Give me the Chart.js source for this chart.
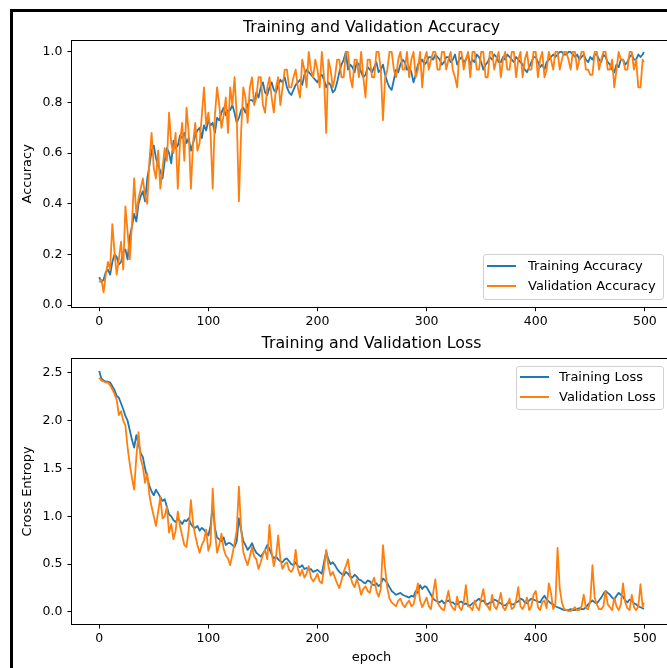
<!DOCTYPE html>
<html>
<head>
<meta charset="utf-8">
<script src="https://cdn.jsdelivr.net/npm/chart.js"></script>
<style>
  body { margin: 0; background: #fff; }
  #wrap { position: relative; width: 667px; height: 668px; overflow: hidden; background: #fff; font-family: "DejaVu Sans", sans-serif; }
  #wrap canvas { position: absolute; left: 0; }
  #frame { position: absolute; left: 10px; top: 9px; width: 700px; height: 700px; border-top: 3px solid #000; border-left: 3px solid #000; }
  .legend { position: absolute; box-sizing: border-box; border: 1px solid #d0d0d0; border-radius: 3px; background: rgba(255,255,255,0.8); font-size: 13px; color: #000; }
  .legend .swatch { position: absolute; width: 29px; height: 2px; }
  .legend .txt { position: absolute; line-height: 16px; white-space: nowrap; }
</style>
</head>
<body>
<div id="wrap">
  <canvas id="accChart" width="700" height="330" style="top:0"></canvas>
  <canvas id="lossChart" width="700" height="338" style="top:330px"></canvas>

  <div class="legend" style="left:483px; top:254px; width:181px; height:46px;">
    <div class="swatch" style="left:3px; top:10px; background:#1f77b4"></div>
    <div class="txt" style="left:44px; top:3px">Training Accuracy</div>
    <div class="swatch" style="left:3px; top:30px; background:#ff7f0e"></div>
    <div class="txt" style="left:44px; top:23px">Validation Accuracy</div>
  </div>

  <div class="legend" style="left:516px; top:366px; width:148px; height:44px;">
    <div class="swatch" style="left:3px; top:9px; background:#1f77b4"></div>
    <div class="txt" style="left:42px; top:2px">Training Loss</div>
    <div class="swatch" style="left:3px; top:29px; background:#ff7f0e"></div>
    <div class="txt" style="left:42px; top:22px">Validation Loss</div>
  </div>

  <div id="frame"></div>
</div>

<script>
// epochs, every 2nd epoch
const epochs = [
  0, 2, 4, 6, 8, 10, 12, 14, 16, 18,
  20, 22, 24, 26, 28, 30, 32, 34, 36, 38,
  40, 42, 44, 46, 48, 50, 52, 54, 56, 58,
  60, 62, 64, 66, 68, 70, 72, 74, 76, 78,
  80, 82, 84, 86, 88, 90, 92, 94, 96, 98,
  100, 102, 104, 106, 108, 110, 112, 114, 116, 118,
  120, 122, 124, 126, 128, 130, 132, 134, 136, 138,
  140, 142, 144, 146, 148, 150, 152, 154, 156, 158,
  160, 162, 164, 166, 168, 170, 172, 174, 176, 178,
  180, 182, 184, 186, 188, 190, 192, 194, 196, 198,
  200, 202, 204, 206, 208, 210, 212, 214, 216, 218,
  220, 222, 224, 226, 228, 230, 232, 234, 236, 238,
  240, 242, 244, 246, 248, 250, 252, 254, 256, 258,
  260, 262, 264, 266, 268, 270, 272, 274, 276, 278,
  280, 282, 284, 286, 288, 290, 292, 294, 296, 298,
  300, 302, 304, 306, 308, 310, 312, 314, 316, 318,
  320, 322, 324, 326, 328, 330, 332, 334, 336, 338,
  340, 342, 344, 346, 348, 350, 352, 354, 356, 358,
  360, 362, 364, 366, 368, 370, 372, 374, 376, 378,
  380, 382, 384, 386, 388, 390, 392, 394, 396, 398,
  400, 402, 404, 406, 408, 410, 412, 414, 416, 418,
  420, 422, 424, 426, 428, 430, 432, 434, 436, 438,
  440, 442, 444, 446, 448, 450, 452, 454, 456, 458,
  460, 462, 464, 466, 468, 470, 472, 474, 476, 478,
  480, 482, 484, 486, 488, 490, 492, 494, 496, 498,
  499
];

const trainAcc = [
  0.11, 0.09, 0.10, 0.13, 0.14, 0.12, 0.17, 0.20, 0.19, 0.16,
  0.17, 0.21, 0.22, 0.18, 0.27, 0.31, 0.36, 0.33, 0.40, 0.43,
  0.45, 0.41, 0.50, 0.55, 0.61, 0.63, 0.58, 0.55, 0.53, 0.50,
  0.57, 0.62, 0.60, 0.56, 0.65, 0.62, 0.63, 0.67, 0.66, 0.68,
  0.64, 0.66, 0.61, 0.64, 0.67, 0.69, 0.70, 0.66, 0.71, 0.69,
  0.73, 0.71, 0.72, 0.68, 0.74, 0.73, 0.76, 0.78, 0.75, 0.77,
  0.77, 0.79, 0.76, 0.72, 0.74, 0.77, 0.78, 0.76, 0.79, 0.81,
  0.81, 0.80, 0.84, 0.82, 0.86, 0.88, 0.84, 0.83, 0.86, 0.88,
  0.85, 0.84, 0.87, 0.89, 0.88, 0.90, 0.86, 0.84, 0.83, 0.85,
  0.87, 0.88, 0.89, 0.87, 0.91, 0.93, 0.92, 0.91, 0.90, 0.89,
  0.88, 0.90, 0.91, 0.89, 0.86, 0.88, 0.87, 0.84, 0.85, 0.88,
  0.92, 0.95, 0.97, 1.00, 0.93, 0.95, 0.94, 0.92, 0.96, 0.95,
  0.92, 0.90, 0.91, 0.94, 0.93, 0.92, 0.94, 0.96, 0.92, 0.93,
  0.95, 0.91, 0.88, 0.86, 0.85, 0.89, 0.93, 0.92, 0.95, 0.97,
  0.96, 0.93, 0.94, 0.92, 0.88, 0.91, 0.95, 0.96, 0.97, 0.95,
  0.96, 0.98, 0.98, 0.97, 0.99, 0.98, 0.97, 0.95, 0.96, 0.98,
  0.98, 0.96, 0.97, 0.99, 0.95, 0.97, 0.98, 0.96, 0.97, 0.99,
  0.95, 0.97, 0.96, 0.99, 0.98, 0.96, 0.93, 0.95, 0.96, 0.98,
  0.97, 0.99, 0.98, 0.96, 0.96, 0.98, 0.97, 0.99, 0.98, 0.97,
  0.96, 0.98, 0.97, 0.96, 0.95, 0.93, 0.92, 0.94, 0.96, 0.98,
  0.98, 0.96, 0.94, 0.95, 0.93, 0.96, 0.97, 0.98, 0.99, 0.98,
  0.99, 1.00, 1.00, 0.99, 0.99, 1.00, 1.00, 0.99, 0.98, 0.99,
  0.97, 0.98, 0.99, 0.97, 0.96, 0.98, 0.97, 0.99, 0.99, 0.97,
  0.96, 0.99, 0.98, 0.96, 0.95, 0.93, 0.92, 0.95, 0.94, 0.97,
  0.97, 0.95, 0.96, 0.98, 0.99, 0.97, 0.97, 0.99, 0.98, 0.99,
  1.00
];

const valAcc = [
  0.09, 0.10, 0.05, 0.12, 0.17, 0.14, 0.32, 0.21, 0.12, 0.18,
  0.25, 0.14, 0.39, 0.29, 0.18, 0.32, 0.50, 0.36, 0.42, 0.46,
  0.50, 0.43, 0.40, 0.57, 0.68, 0.54, 0.50, 0.61, 0.46, 0.54,
  0.62, 0.57, 0.76, 0.64, 0.60, 0.68, 0.46, 0.64, 0.72, 0.57,
  0.78, 0.68, 0.46, 0.64, 0.72, 0.61, 0.64, 0.75, 0.86, 0.71,
  0.76, 0.68, 0.46, 0.75, 0.86, 0.79, 0.70, 0.75, 0.82, 0.68,
  0.86, 0.79, 0.90, 0.75, 0.41, 0.68, 0.86, 0.82, 0.72, 0.86,
  0.90, 0.79, 0.82, 0.90, 0.90, 0.79, 0.76, 0.86, 0.90, 0.82,
  0.76, 0.86, 0.90, 0.79, 0.86, 0.93, 0.93, 0.86, 0.86, 0.90,
  0.93, 0.86, 0.82, 0.97, 0.93, 0.86, 1.00, 0.93, 0.90, 0.97,
  0.93, 0.86, 1.00, 0.90, 0.68, 0.97, 0.93, 0.86, 0.90, 0.97,
  0.97, 0.90, 0.90, 1.00, 1.00, 0.90, 0.86, 0.97, 0.97, 0.90,
  1.00, 0.90, 0.82, 0.97, 0.97, 0.90, 0.90, 1.00, 1.00, 0.93,
  0.73, 0.90, 0.93, 1.00, 1.00, 0.93, 0.90, 0.97, 1.00, 0.93,
  0.93, 1.00, 0.90, 0.97, 1.00, 0.90, 0.93, 1.00, 0.86, 0.97,
  1.00, 0.93, 0.97, 1.00, 1.00, 0.93, 0.93, 1.00, 1.00, 0.93,
  0.97, 1.00, 0.93, 0.90, 0.86, 1.00, 1.00, 0.93, 0.97, 1.00,
  0.90, 1.00, 1.00, 0.93, 0.93, 1.00, 1.00, 0.90, 0.90, 1.00,
  1.00, 0.93, 0.97, 1.00, 0.90, 0.97, 1.00, 0.93, 0.93, 1.00,
  1.00, 0.90, 0.97, 1.00, 0.90, 0.97, 1.00, 0.93, 0.93, 1.00,
  1.00, 0.90, 0.97, 1.00, 0.90, 0.93, 1.00, 0.97, 0.93, 1.00,
  1.00, 0.93, 0.97, 1.00, 1.00, 0.97, 0.93, 1.00, 1.00, 0.93,
  0.97, 1.00, 1.00, 0.93, 0.93, 0.91, 0.91, 1.00, 1.00, 0.93,
  0.97, 1.00, 1.00, 0.93, 0.93, 0.97, 0.86, 0.93, 1.00, 0.97,
  0.97, 0.93, 0.93, 1.00, 1.00, 0.93, 0.97, 0.86, 0.86, 0.97,
  0.96
];

const trainLoss = [
  2.52, 2.44, 2.42, 2.41, 2.41, 2.40, 2.36, 2.32, 2.26, 2.24,
  2.18, 2.12, 2.05, 2.00, 1.90, 1.80, 1.72, 1.85, 1.76, 1.66,
  1.62, 1.50, 1.40, 1.32, 1.26, 1.22, 1.28, 1.24, 1.20, 1.16,
  1.18, 1.10, 1.02, 1.00, 0.96, 0.94, 0.98, 0.95, 0.92, 0.96,
  0.95, 0.98, 0.92, 0.89, 0.88, 0.90, 0.85, 0.88, 0.86, 0.83,
  0.80, 0.90, 1.12, 0.88, 0.78, 0.76, 0.74, 0.78, 0.70, 0.72,
  0.72, 0.70, 0.68, 0.74, 0.98, 0.86, 0.74, 0.70, 0.65, 0.68,
  0.72, 0.66, 0.62, 0.60, 0.58, 0.61, 0.65, 0.70, 0.66, 0.60,
  0.56, 0.58, 0.55, 0.53, 0.52, 0.55, 0.56, 0.53, 0.50, 0.49,
  0.52, 0.48, 0.47, 0.49, 0.45, 0.46, 0.44, 0.45, 0.42, 0.43,
  0.44, 0.42, 0.40, 0.52, 0.63, 0.55, 0.50, 0.52, 0.49, 0.45,
  0.42, 0.40, 0.38, 0.42, 0.40, 0.37, 0.36, 0.39, 0.37, 0.34,
  0.33, 0.31, 0.30, 0.33, 0.32, 0.29, 0.28, 0.30, 0.27, 0.29,
  0.35, 0.33, 0.30, 0.26, 0.22, 0.20, 0.18, 0.19, 0.20, 0.18,
  0.17, 0.16, 0.15, 0.17, 0.16, 0.22, 0.20, 0.28, 0.24, 0.27,
  0.26, 0.22, 0.18, 0.14, 0.12, 0.11, 0.10, 0.12, 0.09, 0.11,
  0.12, 0.10, 0.10, 0.08, 0.08, 0.10, 0.11, 0.08, 0.09, 0.07,
  0.07, 0.09, 0.10, 0.12, 0.14, 0.11, 0.12, 0.09, 0.08, 0.10,
  0.10, 0.13, 0.12, 0.10, 0.09, 0.07, 0.07, 0.09, 0.10, 0.08,
  0.08, 0.10, 0.11, 0.14, 0.13, 0.10, 0.09, 0.12, 0.14, 0.13,
  0.12, 0.11, 0.10, 0.14, 0.17, 0.13, 0.11, 0.09, 0.08, 0.06,
  0.05, 0.04, 0.03, 0.02, 0.02, 0.02, 0.03, 0.02, 0.02, 0.03,
  0.04, 0.03, 0.03, 0.05, 0.08, 0.10, 0.12, 0.10, 0.09, 0.12,
  0.15, 0.19, 0.22, 0.20, 0.18, 0.15, 0.13, 0.17, 0.20, 0.18,
  0.16, 0.12, 0.10, 0.13, 0.12, 0.09, 0.08, 0.06, 0.05, 0.04,
  0.03
];

const valLoss = [
  2.45, 2.42, 2.41, 2.40, 2.40, 2.37, 2.33, 2.28, 2.22, 2.06,
  2.10, 2.00, 1.95, 1.72, 1.55, 1.40, 1.28, 1.62, 1.88, 1.60,
  1.52, 1.35, 1.45, 1.22, 1.10, 1.00, 0.90, 1.05, 1.20, 0.98,
  1.00, 1.10, 0.83, 0.92, 0.76, 0.85, 1.05, 0.90, 0.80, 0.70,
  0.68, 0.86, 1.17, 0.92, 0.80, 0.70, 0.62, 0.70, 0.75, 0.86,
  0.64, 0.72, 1.29, 0.85, 0.62, 0.70, 0.82, 0.66, 0.59, 0.56,
  0.49, 0.60, 0.72, 0.85, 1.31, 0.88, 0.63, 0.55, 0.49, 0.58,
  0.68, 0.58, 0.55, 0.45, 0.52, 0.60, 0.65, 0.55, 0.91, 0.62,
  0.48, 0.58, 0.80, 0.55, 0.45, 0.50, 0.52, 0.44, 0.42, 0.46,
  0.65, 0.45, 0.38, 0.44, 0.36, 0.40, 0.48, 0.36, 0.32, 0.35,
  0.40, 0.32, 0.30, 0.45, 0.65, 0.48, 0.38, 0.42, 0.36, 0.30,
  0.25, 0.33, 0.42, 0.48, 0.55, 0.38, 0.30, 0.26, 0.34, 0.28,
  0.18, 0.24, 0.27, 0.22, 0.20, 0.31, 0.36, 0.22, 0.16, 0.24,
  0.70, 0.45, 0.25, 0.14, 0.10, 0.08, 0.06, 0.12, 0.14, 0.08,
  0.05, 0.09, 0.12, 0.06, 0.08, 0.18, 0.30, 0.12, 0.05, 0.10,
  0.15, 0.06, 0.03, 0.20, 0.34, 0.10, 0.06, 0.03, 0.02, 0.12,
  0.22, 0.08, 0.04, 0.02, 0.16, 0.05, 0.02, 0.10, 0.28, 0.06,
  0.05, 0.02, 0.12, 0.05, 0.02, 0.14, 0.24, 0.08, 0.06, 0.02,
  0.18, 0.06, 0.03, 0.10, 0.20, 0.05, 0.02, 0.08, 0.14, 0.03,
  0.05, 0.12, 0.26, 0.06, 0.03, 0.08, 0.15, 0.02, 0.06, 0.18,
  0.22, 0.05, 0.02, 0.10, 0.12, 0.04, 0.30, 0.20, 0.03, 0.08,
  0.67, 0.25, 0.10, 0.03, 0.02, 0.01, 0.01, 0.03, 0.05, 0.02,
  0.02, 0.06, 0.18, 0.04, 0.03, 0.12, 0.49, 0.15, 0.08, 0.03,
  0.03, 0.06, 0.22, 0.08, 0.05, 0.02, 0.15, 0.06, 0.02, 0.08,
  0.30, 0.10, 0.04, 0.02, 0.18, 0.05, 0.02, 0.06, 0.29, 0.05,
  0.10
];

const epochTicks = [0, 100, 200, 300, 400, 500];
const accTicks = [0.0, 0.2, 0.4, 0.6, 0.8, 1.0];
const lossTicks = [0.0, 0.5, 1.0, 1.5, 2.0, 2.5];

const BLUE = '#1f77b4';
const ORANGE = '#ff7f0e';
const FONT = 'DejaVu Sans';

function pts(ys) {
  return epochs.map((x, i) => ({ x: x, y: ys[i] }));
}

// matplotlib style box round the axes
const spines = {
  id: 'spines',
  afterDatasetsDraw(chart) {
    const a = chart.chartArea;
    const ctx = chart.ctx;
    ctx.save();
    ctx.strokeStyle = '#000';
    ctx.lineWidth = 1;
    ctx.strokeRect(Math.round(a.left) - 0.5, Math.round(a.top) - 0.5,
      Math.round(a.right - a.left) + 1, Math.round(a.bottom - a.top) + 1);
    ctx.restore();
  }
};

function xAxis(height, title) {
  return {
    type: 'linear',
    min: -24.95,
    max: 523.95,
    afterBuildTicks: s => { s.ticks = epochTicks.map(v => ({ value: v })); },
    afterFit: s => { s.height = height; },
    ticks: { color: '#000', font: { family: FONT, size: 12.5 }, padding: 3, maxRotation: 0, autoSkip: false, callback: v => String(v) },
    grid: { drawOnChartArea: false, drawTicks: true, tickLength: 4.5, color: '#000' },
    border: { display: false },
    title: title
  };
}

function yAxis(min, max, tickVals, label) {
  return {
    min: min,
    max: max,
    afterBuildTicks: s => { s.ticks = tickVals.map(v => ({ value: v })); },
    afterFit: s => { s.width = 72; },
    ticks: { color: '#000', font: { family: FONT, size: 12.5 }, padding: 5, autoSkip: false, callback: v => v.toFixed(1) },
    grid: { drawOnChartArea: false, drawTicks: true, tickLength: 4.5, color: '#000' },
    border: { display: false },
    title: { display: true, text: label, color: '#000', font: { family: FONT, size: 13 }, padding: { top: 20.2, bottom: 0 } }
  };
}

function lineSet(label, ys, color, order) {
  return {
    label: label,
    data: pts(ys),
    borderColor: color,
    backgroundColor: color,
    borderWidth: 1.8,
    pointRadius: 0,
    tension: 0,
    borderJoinStyle: 'round',
    order: order
  };
}

new Chart(document.getElementById('accChart'), {
  type: 'line',
  data: {
    datasets: [
      lineSet('Training Accuracy', trainAcc, BLUE, 1),
      lineSet('Validation Accuracy', valAcc, ORANGE, 0)
    ]
  },
  options: {
    responsive: false,
    animation: false,
    devicePixelRatio: 1,
    events: [],
    layout: { padding: { left: 0, top: 8, right: 29, bottom: 0 }, autoPadding: false },
    scales: {
      x: xAxis(23.3, { display: false }),
      y: yAxis(-0.0067, 1.0435, accTicks, 'Accuracy')
    },
    plugins: {
      legend: { display: false },
      tooltip: { enabled: false },
      title: {
        display: true, fullSize: false, text: 'Training and Validation Accuracy', color: '#000',
        font: { family: FONT, size: 15.8, weight: 'normal' }, padding: { top: 10, bottom: 4 }
      }
    }
  },
  plugins: [spines]
});

new Chart(document.getElementById('lossChart'), {
  type: 'line',
  data: {
    datasets: [
      lineSet('Training Loss', trainLoss, BLUE, 1),
      lineSet('Validation Loss', valLoss, ORANGE, 0)
    ]
  },
  options: {
    responsive: false,
    animation: false,
    devicePixelRatio: 1,
    events: [],
    layout: { padding: { left: 0, top: 0, right: 29, bottom: 0 }, autoPadding: false },
    scales: {
      x: xAxis(44, { display: true, text: 'epoch', color: '#000', font: { family: FONT, size: 13 }, padding: { top: 0, bottom: 2.2 } }),
      y: yAxis(-0.1255, 2.646, lossTicks, 'Cross Entropy')
    },
    plugins: {
      legend: { display: false },
      tooltip: { enabled: false },
      title: {
        display: true, fullSize: false, text: 'Training and Validation Loss', color: '#000',
        font: { family: FONT, size: 15.8, weight: 'normal' }, padding: { top: 4.5, bottom: 5.5 }
      }
    }
  },
  plugins: [spines]
});
</script>
</body>
</html>
